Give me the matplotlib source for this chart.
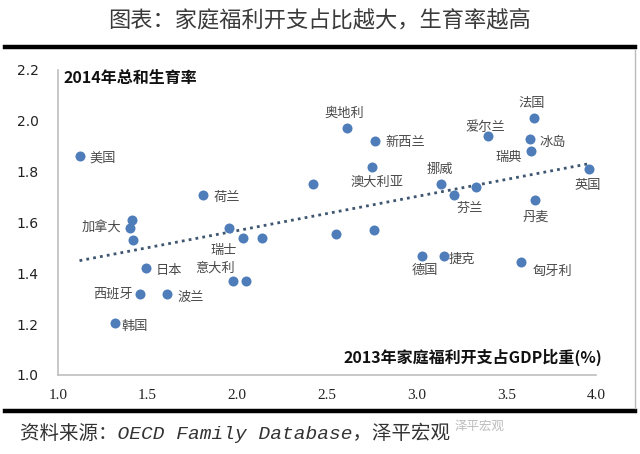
import numpy as np
import matplotlib
matplotlib.use("Agg")
import matplotlib.pyplot as plt
from matplotlib.lines import Line2D

plt.rcParams['font.family'] = ['Noto Sans CJK SC', 'DejaVu Sans']

# 2013 family benefit spending (% of GDP) vs 2014 total fertility rate
spend = [1.12, 1.81, 1.41, 1.40, 1.42, 1.49, 1.46, 1.61, 1.32, 1.955, 2.03, 2.14,
         1.975, 2.05, 2.42, 2.61, 2.77, 2.75, 3.135, 3.21, 3.33, 3.40, 3.655,
         3.63, 3.64, 3.96, 3.66, 2.55, 2.76, 3.03, 3.15, 3.58]
tfr = [1.86, 1.71, 1.61, 1.58, 1.53, 1.42, 1.32, 1.32, 1.205, 1.58, 1.54, 1.54,
       1.37, 1.37, 1.75, 1.97, 1.92, 1.82, 1.75, 1.71, 1.74, 1.94, 2.01,
       1.93, 1.88, 1.81, 1.69, 1.555, 1.57, 1.47, 1.47, 1.445]

# country labels: (index of point, name, dx px, dy px, ha)
labels = [
    (0, '美国', 10, 2, 'left'),
    (1, '荷兰', 10, 3, 'left'),
    (3, '加拿大', -8, 0, 'right'),
    (5, '日本', 10, 2, 'left'),
    (6, '西班牙', -8, 0, 'right'),
    (7, '波兰', 10, 4, 'left'),
    (8, '韩国', 6, 4, 'left'),
    (9, '瑞士', -6, 23, 'center'),
    (12, '意大利', -18, -13, 'center'),
    (15, '奥地利', -2, -15, 'center'),
    (16, '新西兰', 10, 1, 'left'),
    (17, '澳大利亚', 5, 16, 'center'),
    (18, '挪威', -1, -15, 'center'),
    (19, '芬兰', 16, 14, 'center'),
    (21, '爱尔兰', -3, -9, 'center'),
    (22, '法国', -2, -15, 'center'),
    (23, '冰岛', 10, 4, 'left'),
    (24, '瑞典', -10, 6, 'right'),
    (25, '英国', -1, 16, 'center'),
    (26, '丹麦', 1, 17, 'center'),
    (29, '德国', 3, 15, 'center'),
    (30, '捷克', 5, 4, 'left'),
    (31, '匈牙利', 12, 10, 'left'),
]

x_ticks = [1.0, 1.5, 2.0, 2.5, 3.0, 3.5, 4.0]
y_ticks = [1.0, 1.2, 1.4, 1.6, 1.8, 2.0, 2.2]

fig = plt.figure(figsize=(6.4, 4.54), dpi=100)
ax = fig.add_axes([58 / 640, 1 - 375 / 454, 538 / 640, 305 / 454])

ax.scatter(spend, tfr, s=52, color='#4F7DBA', zorder=3, linewidths=0)

# linear trend line
k, b = np.polyfit(spend, tfr, 1)
xs = np.array([min(spend), max(spend)])
ax.plot(xs, k * xs + b, linestyle=(0, (1, 1.5)), color='#3F5670', lw=2, zorder=2)

for i, name, dx, dy, ha in labels:
    ax.annotate(name, (spend[i], tfr[i]), xytext=(dx * 0.72, -dy * 0.72),
                textcoords='offset points', ha=ha, va='center',
                fontsize=9.5, color='#4A4A4A')

ax.set_xlim(1.0, 4.0)
ax.set_ylim(1.0, 2.2)
ax.set_xticks(x_ticks)
ax.set_yticks(y_ticks)
ax.set_xticklabels(['%.1f' % v for v in x_ticks], family='Liberation Serif', fontsize=11, color='#222222')
ax.set_yticklabels(['%.1f' % v for v in y_ticks], family='DejaVu Sans', fontsize=10, color='#222222')
ax.tick_params(length=0, pad=10)
ax.tick_params(axis='y', pad=14)
for s in ['top', 'right']:
    ax.spines[s].set_visible(False)
for s in ['left', 'bottom']:
    ax.spines[s].set_color('#BFBFBF')
    ax.spines[s].set_linewidth(1.2)

ax.text(0.01, 1.0, '2014年总和生育率', transform=ax.transAxes, ha='left', va='top',
        fontsize=11.5, fontweight='bold', color='#111111')
ax.text(1.012, 0.03, '2013年家庭福利开支占GDP比重(%)', transform=ax.transAxes, ha='right', va='bottom',
        fontsize=11.5, fontweight='bold', color='#111111')

# header / footer
fig.text(0.5, 1 - 20 / 454, '图表：家庭福利开支占比越大，生育率越高', ha='center', va='center',
         fontsize=16, color='#3A3A3A')
fig.add_artist(Line2D([5 / 640, 635 / 640], [1 - 47 / 454] * 2, color='black', lw=3.2))
fig.add_artist(Line2D([5 / 640, 635 / 640], [1 - 411 / 454] * 2, color='black', lw=3.2))
fig.add_artist(Line2D([635 / 640] * 2, [1 - 50 / 454, 1 - 408 / 454], color='#BBBBBB', lw=1))
fig.text(20 / 640, 1 - 433 / 454, '资料来源：OECD Family Database，泽平宏观',
         family=['Liberation Mono', 'Noto Sans CJK SC'], style='italic',
         ha='left', va='center', fontsize=14, color='#333333')
fig.text(455 / 640, 1 - 426 / 454, '泽平宏观', ha='left', va='center', fontsize=9, color='#BBBBBB')

fig.savefig('out.png', dpi=100)
